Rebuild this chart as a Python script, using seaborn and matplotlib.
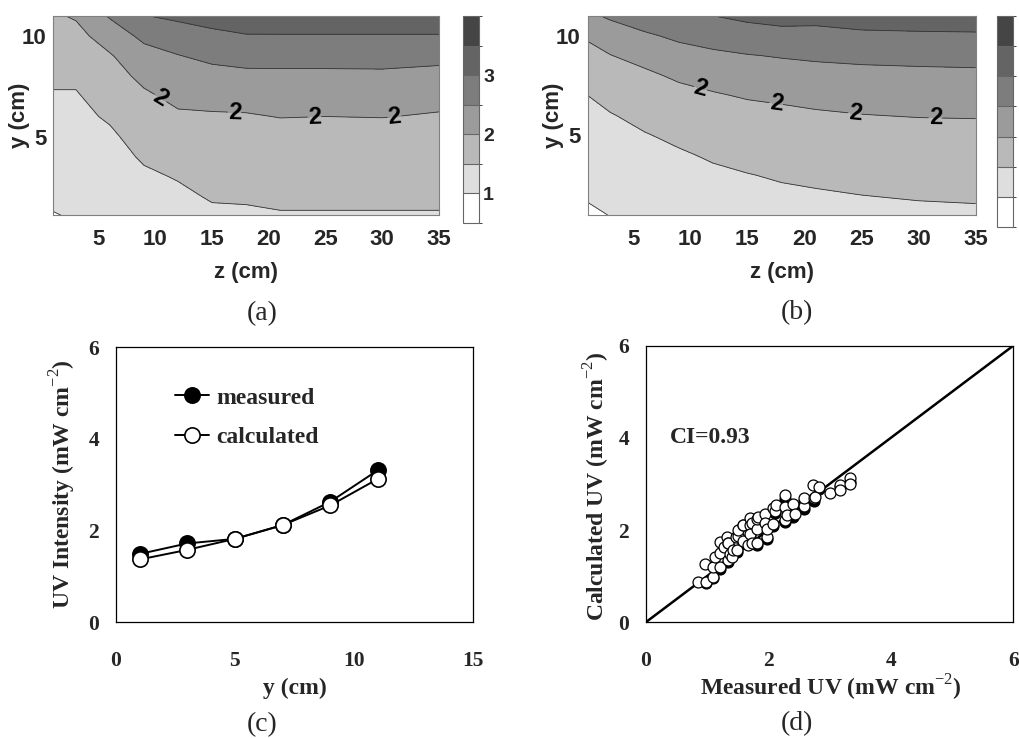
import numpy as np
import matplotlib
matplotlib.use('Agg')
import matplotlib.pyplot as plt
from matplotlib.colors import ListedColormap, BoundaryNorm
import seaborn as sns

# grid nodes of the UV maps (cm)
z_nodes = [1, 3, 6, 9, 12, 15, 18, 21, 25, 30, 35]
y_nodes = [1, 2, 3, 4, 5, 6, 7, 8, 9, 10, 11]

# (a) measured UV intensity, one row per z node, y from bottom to top
uv_map_measured = [
    [0.97, 1.08, 1.16, 1.24, 1.32, 1.39, 1.47, 1.56, 1.67, 1.80, 1.95],
    [1.03, 1.10, 1.17, 1.24, 1.31, 1.38, 1.46, 1.58, 1.72, 1.87, 2.04],
    [1.10, 1.17, 1.24, 1.32, 1.42, 1.56, 1.70, 1.83, 1.96, 2.20, 2.55],
    [1.20, 1.30, 1.42, 1.56, 1.70, 1.82, 1.93, 2.10, 2.30, 2.62, 2.98],
    [1.30, 1.40, 1.53, 1.67, 1.80, 1.94, 2.10, 2.28, 2.48, 2.74, 3.10],
    [1.40, 1.54, 1.64, 1.74, 1.84, 1.96, 2.12, 2.35, 2.60, 2.88, 3.20],
    [1.42, 1.55, 1.65, 1.75, 1.85, 1.97, 2.13, 2.40, 2.65, 2.97, 3.27],
    [1.47, 1.56, 1.66, 1.76, 1.87, 2.01, 2.15, 2.40, 2.66, 2.97, 3.30],
    [1.47, 1.56, 1.65, 1.74, 1.84, 2.00, 2.14, 2.40, 2.66, 2.97, 3.30],
    [1.47, 1.56, 1.66, 1.75, 1.85, 2.01, 2.14, 2.41, 2.66, 2.97, 3.30],
    [1.47, 1.56, 1.65, 1.74, 1.83, 1.97, 2.10, 2.36, 2.62, 2.97, 3.30],
]

# (b) calculated UV intensity, same layout
uv_map_calculated = [
    [0.93, 1.04, 1.13, 1.22, 1.30, 1.40, 1.50, 1.67, 1.85, 2.06, 2.40],
    [1.01, 1.10, 1.19, 1.28, 1.37, 1.48, 1.62, 1.78, 1.99, 2.22, 2.58],
    [1.12, 1.20, 1.29, 1.38, 1.48, 1.60, 1.75, 1.92, 2.14, 2.43, 2.78],
    [1.20, 1.28, 1.37, 1.46, 1.57, 1.70, 1.87, 2.07, 2.30, 2.60, 2.95],
    [1.27, 1.35, 1.44, 1.54, 1.65, 1.78, 1.96, 2.17, 2.41, 2.70, 3.00],
    [1.33, 1.41, 1.49, 1.59, 1.71, 1.85, 2.04, 2.25, 2.48, 2.80, 3.10],
    [1.37, 1.45, 1.53, 1.63, 1.75, 1.90, 2.08, 2.30, 2.53, 2.84, 3.18],
    [1.40, 1.47, 1.56, 1.66, 1.78, 1.95, 2.12, 2.34, 2.57, 2.88, 3.12],
    [1.43, 1.50, 1.59, 1.69, 1.81, 1.99, 2.16, 2.38, 2.60, 2.92, 3.20],
    [1.45, 1.52, 1.61, 1.71, 1.84, 2.02, 2.18, 2.40, 2.62, 2.93, 3.25],
    [1.46, 1.53, 1.62, 1.72, 1.85, 2.03, 2.19, 2.41, 2.64, 2.94, 3.27],
]

uv_levels = [0.5, 1.0, 1.5, 2.0, 2.5, 3.0, 3.5, 4.0]
labelled_level = 2.0
cbar_ticks = [1, 2, 3]

# (c) profile along y
y_profile = [1, 3, 5, 7, 9, 11]
uv_profile_measured = [1.49, 1.72, 1.82, 2.12, 2.63, 3.32]
uv_profile_calculated = [1.37, 1.58, 1.82, 2.12, 2.55, 3.13]

# (d) parity plot, open circles on top of filled ones
open_measured = [0.85, 0.98, 0.97, 1.10, 1.10, 1.13, 1.21, 1.21, 1.21, 1.27,
                 1.32, 1.34, 1.34, 1.35, 1.38, 1.40, 1.43, 1.48, 1.49, 1.50,
                 1.51, 1.58, 1.59, 1.59, 1.67, 1.70, 1.71, 1.71, 1.73, 1.73,
                 1.82, 1.82, 1.82, 1.84, 1.95, 1.95, 1.98, 1.98, 2.08, 2.08,
                 2.11, 2.13, 2.27, 2.27, 2.27, 2.30, 2.41, 2.43, 2.58, 2.58,
                 2.73, 2.74, 2.76, 2.83, 3.01, 3.17, 3.17, 3.33, 3.33]
open_calculated = [0.88, 0.88, 1.26, 0.99, 1.19, 1.42, 1.19, 1.51, 1.74, 1.64,
                   1.86, 1.35, 1.71, 1.71, 1.48, 1.42, 1.57, 1.86, 1.57, 1.87,
                   2.00, 2.11, 1.76, 2.11, 1.68, 2.11, 2.26, 1.92, 2.15, 1.71,
                   1.73, 2.02, 2.24, 2.29, 2.34, 2.15, 1.84, 2.02, 2.13, 2.47,
                   2.41, 2.54, 2.76, 2.22, 2.51, 2.33, 2.57, 2.34, 2.52, 2.69,
                   2.98, 2.69, 2.72, 2.94, 2.80, 2.98, 2.87, 3.12, 3.00]
filled_measured = [0.98, 1.10, 1.21, 1.34, 1.38, 1.49, 1.59, 1.71, 1.82, 1.98,
                   2.08, 2.11, 2.27, 2.27, 2.41, 2.58, 2.58, 2.74, 2.83, 3.17, 3.33]
filled_calculated = [0.85, 0.96, 1.15, 1.31, 1.44, 1.52, 1.71, 1.87, 1.68, 1.80,
                     2.08, 2.36, 2.18, 2.68, 2.29, 2.46, 2.62, 2.64, 2.90, 2.93, 3.05]
one_to_one = [0, 6]
ci_text = 'CI=0.93'

sns.set_style('white')
serif = ['Liberation Serif', 'DejaVu Serif']
sans = ['Liberation Sans', 'DejaVu Sans']
plt.rcParams['font.family'] = serif
plt.rcParams['mathtext.fontset'] = 'custom'
plt.rcParams['mathtext.rm'] = 'Liberation Serif'
plt.rcParams['mathtext.bf'] = 'Liberation Serif:bold'

grey_cmap = ListedColormap(['#ffffff', '#dedede', '#b9b9b9', '#9b9b9b',
                            '#7d7d7d', '#646464', '#454545'])
grey_norm = BoundaryNorm(uv_levels, grey_cmap.N)

fig = plt.figure(figsize=(10.19, 7.38), dpi=100)
ax_a = fig.add_axes([0.0523, 0.7087, 0.3785, 0.2696])
cax_a = fig.add_axes([0.4544, 0.6978, 0.0157, 0.2805])
ax_b = fig.add_axes([0.5767, 0.7087, 0.3808, 0.2700])
cax_b = fig.add_axes([0.9784, 0.6924, 0.0157, 0.2859])
ax_c = fig.add_axes([0.1135, 0.1568, 0.3510, 0.3726])
ax_d = fig.add_axes([0.6337, 0.1568, 0.3607, 0.3748])


def sans_bold(t):
    t.set_fontfamily(sans)
    t.set_fontweight('bold')


def draw_map(ax, cax, field, label_z, y_low, show_cbar_labels):
    Z, Y = np.meshgrid(z_nodes, y_nodes)
    V = np.array(field).T
    cf = ax.contourf(Z, Y, V, levels=uv_levels, cmap=grey_cmap, norm=grey_norm)
    other = [lv for lv in uv_levels[1:-1] if lv != labelled_level]
    ax.contour(Z, Y, V, levels=other, colors='#333333', linewidths=0.6)
    cl = ax.contour(Z, Y, V, levels=[labelled_level], colors='#333333', linewidths=0.6)
    labels = ax.clabel(cl, fmt='%d', inline=True, inline_spacing=1,
                       fontsize=17, manual=[(z, 6.5) for z in label_z])
    for t in labels:
        sans_bold(t)
        t.set_color('black')
    ax.set_xlim(1, 35)
    ax.set_ylim(y_low, 11)
    ax.set_xticks([5, 10, 15, 20, 25, 30, 35])
    ax.set_yticks([5, 10])
    ax.tick_params(direction='out', length=4, width=0.8, color='#777777',
                   labelsize=16, pad=6)
    ax.tick_params(axis='y', pad=1)
    for t in ax.get_xticklabels() + ax.get_yticklabels():
        sans_bold(t)
    for s in ax.spines.values():
        s.set_color('#808080')
        s.set_linewidth(0.8)
    ax.set_xlabel('z (cm)', fontsize=16)
    ax.set_ylabel('y (cm)', fontsize=16)
    sans_bold(ax.xaxis.label)
    sans_bold(ax.yaxis.label)
    ax.xaxis.set_label_coords(0.5, -0.291)
    ax.xaxis.label.set_va('center')
    ax.yaxis.set_label_coords(-0.087, 0.5)
    ax.yaxis.label.set_va('center')

    cb = fig.colorbar(cf, cax=cax, drawedges=True)
    cb.outline.set_edgecolor('#666666')
    cb.outline.set_linewidth(0.8)
    cb.dividers.set_color('#666666')
    cb.dividers.set_linewidth(0.8)
    if show_cbar_labels:
        cb.set_ticks(cbar_ticks)
        cax.tick_params(length=0, pad=3, labelsize=14)
        for t in cax.get_yticklabels():
            sans_bold(t)
    else:
        cb.set_ticks([])


draw_map(ax_a, cax_a, uv_map_measured, [10, 17, 24, 31], 1.1, True)
draw_map(ax_b, cax_b, uv_map_calculated, [10.5, 17.5, 24.5, 31.5], 1.0, False)

# (c) profile
sns.lineplot(x=y_profile, y=uv_profile_measured, ax=ax_c, color='black', lw=1.4,
             marker='o', markersize=11, markerfacecolor='black',
             markeredgecolor='black', markeredgewidth=1.2, label='measured')
sns.lineplot(x=y_profile, y=uv_profile_calculated, ax=ax_c, color='black', lw=1.4,
             marker='o', markersize=11, markerfacecolor='white',
             markeredgecolor='black', markeredgewidth=1.2, label='calculated')
ax_c.set_xlim(0, 15)
ax_c.set_ylim(0, 6)
ax_c.set_xticks([0, 5, 10, 15])
ax_c.set_yticks([0, 2, 4, 6])
ax_c.legend(frameon=False, loc='upper left', bbox_to_anchor=(0.165, 0.855),
            borderaxespad=0, borderpad=0, handlelength=1.45, handletextpad=0.3,
            labelspacing=0.75, prop=dict(family=serif, weight='bold', size=17))
ax_c.set_xlabel('y (cm)', fontweight='bold', fontsize=17)
ax_c.set_ylabel('UV Intensity (mW cm$^{-2}$)', fontweight='bold', fontsize=17)
ax_c.xaxis.set_label_coords(0.5, -0.239)
ax_c.xaxis.label.set_va('center')
ax_c.yaxis.set_label_coords(-0.147, 0.503)
ax_c.yaxis.label.set_va('center')

# (d) parity
sns.lineplot(x=one_to_one, y=one_to_one, ax=ax_d, color='black', lw=1.8)
sns.scatterplot(x=filled_measured, y=filled_calculated, ax=ax_d, color='black',
                edgecolor='black', s=62, linewidth=0.9, zorder=3)
sns.scatterplot(x=open_measured, y=open_calculated, ax=ax_d, color='white',
                edgecolor='black', s=62, linewidth=0.9, zorder=4)
ax_d.text(0.4, 4.0, ci_text, fontweight='bold', fontsize=17, va='center')
ax_d.set_xlim(0, 6)
ax_d.set_ylim(0, 6)
ax_d.set_xticks([0, 2, 4, 6])
ax_d.set_yticks([0, 2, 4, 6])
ax_d.set_xlabel('Measured UV (mW cm$^{-2}$)', fontweight='bold', fontsize=17)
ax_d.set_ylabel('Calculated UV (mW cm$^{-2}$)', fontweight='bold', fontsize=17)
ax_d.xaxis.set_label_coords(0.5035, -0.2375)
ax_d.xaxis.label.set_va('center')
ax_d.yaxis.set_label_coords(-0.1325, 0.493)
ax_d.yaxis.label.set_va('center')

for ax in (ax_c, ax_d):
    ax.tick_params(direction='in', length=4, width=0.8, color='#999999',
                   labelsize=15.5)
    ax.tick_params(axis='x', pad=21)
    ax.tick_params(axis='y', pad=12)
    for t in ax.get_xticklabels() + ax.get_yticklabels():
        t.set_fontweight('bold')
    for s in ax.spines.values():
        s.set_color('black')
        s.set_linewidth(0.9)

fig.text(0.257, 0.575, '(a)', fontsize=20, ha='center', va='center')
fig.text(0.782, 0.577, '(b)', fontsize=20, ha='center', va='center')
fig.text(0.257, 0.018, '(c)', fontsize=20, ha='center', va='center')
fig.text(0.782, 0.020, '(d)', fontsize=20, ha='center', va='center')

fig.savefig('out.png', dpi=100)
